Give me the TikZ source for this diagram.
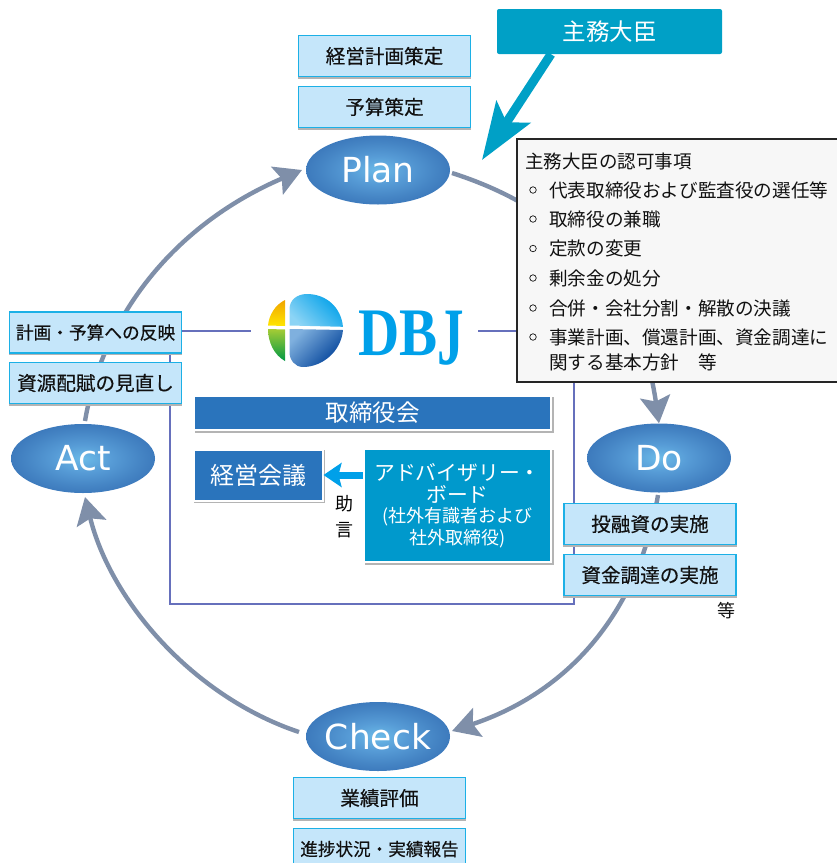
\documentclass[tikz,border=0pt]{standalone}
\usepackage{fontspec}
\setmainfont{Noto Sans CJK JP}
\newfontfamily\jpmed[FakeBold=0.35]{Noto Sans CJK JP}
\newfontfamily\latinsf{DejaVu Sans}
\newfontfamily\logofont{Liberation Serif}
\usetikzlibrary{shapes.geometric,arrows.meta}
\definecolor{cyc}{HTML}{7F8FA9}
\definecolor{lightbox}{HTML}{C5E6FA}
\definecolor{lightedge}{HTML}{1CB0E6}
\definecolor{teal}{HTML}{00A0C6}
\definecolor{board}{HTML}{2A74BC}
\definecolor{adv}{HTML}{0099CC}
\definecolor{outline}{HTML}{6670BC}
\definecolor{logoblue}{HTML}{00A0E9}
\definecolor{ink}{HTML}{111111}
\definecolor{shadowgray}{HTML}{B4B4B4}
\pgfdeclareradialshading{ellshade}{\pgfpoint{0bp}{0bp}}{%
  rgb(0bp)=(.42,.73,.91);
  rgb(10bp)=(.34,.61,.84);
  rgb(20bp)=(.27,.52,.77);
  rgb(30bp)=(.21,.44,.71);
  rgb(38bp)=(.18,.40,.67);
  rgb(100bp)=(.18,.40,.67)}
\tikzset{
  fs/.code={\pgfmathsetmacro\fsh{#1*.88}\pgfmathsetmacro\fsd{#1*.12}%
    \tikzset{font=\fontsize{#1}{#1}\selectfont,text height=\fsh pt,text depth=\fsd pt}},
  fsb/.code={\pgfmathsetmacro\fsh{#1*.88}\pgfmathsetmacro\fsd{#1*.12}%
    \tikzset{font=\jpmed\fontsize{#1}{#1}\selectfont,text height=\fsh pt,text depth=\fsd pt}},
  phase/.style={ellipse,shade,shading=ellshade,minimum width=144pt,minimum height=69pt,inner sep=-12pt,text=white,font=\latinsf\fontsize{34.5}{34.5}\selectfont},
  lbox/.style={rectangle,draw=lightedge,line width=1.4pt,fill=lightbox,text=ink,minimum width=172pt,minimum height=41pt,inner sep=0pt,
    preaction={draw=shadowgray,line width=1.4pt,fill=shadowgray,transform canvas={yshift=-1.6pt}}},
  darkbox/.style={rectangle,draw=white,line width=2pt,fill=board,text=white,inner sep=0pt,
    preaction={draw=shadowgray,line width=2pt,fill=shadowgray,transform canvas={xshift=1.6pt,yshift=-1.6pt}}},
  cycarrow/.style={draw=cyc,line width=4.4pt,-{Stealth[length=27pt,width=30pt,inset=5pt]}},
  frameline/.style={draw=outline,line width=1.2pt},
  item/.style={anchor=west,inner sep=0pt,text=ink},
  bullet/.style={circle,draw=ink,line width=.7pt,minimum size=6.5pt,inner sep=0pt},
}
\begin{document}
\begin{tikzpicture}[x=1pt,y=-1pt]
\useasboundingbox (0,0) rectangle (837,863);
\clip (0,0) rectangle (837,863);
% free ends
\coordinate (planOut) at (452,173);
\coordinate (doOut) at (658,495);
\coordinate (checkIn) at (452,731);
\coordinate (checkOut) at (299,732);
\coordinate (actIn) at (85,497);
\coordinate (actOut) at (85,421);
\coordinate (planIn) at (302,170);
\coordinate (logoL) at (250.5,331);
\coordinate (logoR) at (478,331);
\coordinate (frameTL) at (170,331);
\coordinate (frameBL) at (170,604);
\coordinate (frameBR) at (574,604);
\coordinate (frameTR) at (574,331);
\coordinate (ministerTip) at (482,160);
% frame
\draw[frameline] (logoL) -- (frameTL) -- (frameBL) -- (frameBR) -- (frameTR) -- (logoR);
% phases
\node[phase] (plan) at (378,170) {Plan};
\node[phase] (do) at (659,458) {Do};
\node[phase] (check) at (378,736.5) {Check};
\node[phase] (act) at (83,458.5) {Act};
% cycle
\draw[cycarrow] (planOut) .. controls (574,212) and (640,293) .. (do.north);
\draw[cycarrow] (doOut) .. controls (640,605) and (575,690) .. (checkIn);
\draw[cycarrow] (checkOut) .. controls (194,697) and (111,602) .. (actIn);
\draw[cycarrow] (actOut) .. controls (104,310) and (180,222) .. (planIn);
% light boxes
\node[lbox,fsb=19.6] (keiei) at (384.5,56) {経営計画策定};
\node[lbox,fsb=19.6] (yosan) at (384.5,107) {予算策定};
\node[lbox,fsb=17.7] (hanei) at (95.5,332.5) {計画・予算への反映};
\node[lbox,fsb=19.6] (shigen) at (95.5,383) {資源配賦の見直し};
\node[lbox,fsb=19.6] (yushi) at (650,524) {投融資の実施};
\node[lbox,fsb=19.6] (shikin) at (650,575) {資金調達の実施};
\node[lbox,fsb=19.6] (gyoseki) at (379.5,798) {業績評価};
\node[lbox,fsb=17.6] (shincho) at (379.5,849) {進捗状況・実績報告};
\node[fs=18,inner sep=0pt,text=ink] (nado) at (726,611) {等};
% minister
\node[rectangle,rounded corners=2pt,fill=teal,text=white,minimum width=225pt,minimum height=45pt,inner sep=0pt,fs=23.5] (minister) at (609.5,31.5) {主務大臣};
\draw[teal,line width=9pt,-{Stealth[length=57pt,width=40pt,inset=12pt]}] ([xshift=-58.5pt]minister.south) -- (ministerTip);
% approval box
\node[rectangle,draw=black!85,line width=1.2pt,fill=black!3,minimum width=330pt,minimum height=243pt,inner sep=0pt] (approval) at (682,260.5) {};
\node[item,fs=18.5] (t0) at (525,161) {主務大臣の認可事項};
\node[bullet] (b1) at (533,190) {};
\node[item,fs=18.6] (t1) at (549,190) {代表取締役および監査役の選任等};
\node[bullet] (b2) at (533,219) {};
\node[item,fs=18.6] (t2) at (549,219) {取締役の兼職};
\node[bullet] (b3) at (533,248.5) {};
\node[item,fs=18.6] (t3) at (549,248.5) {定款の変更};
\node[bullet] (b4) at (533,278) {};
\node[item,fs=18.6] (t4) at (549,278) {剰余金の処分};
\node[bullet] (b5) at (533,308) {};
\node[item,fs=18.6] (t5) at (549,308) {合併・会社分割・解散の決議};
\node[bullet] (b6) at (533,337) {};
\node[item,fs=18.6] (t6) at (549,337) {事業計画、償還計画、資金調達に};
\node[item,fs=18.6] (t7) at (549,362) {関する基本方針　等};
% board
\node[darkbox,minimum width=357pt,minimum height=34pt,fs=23.5] (torishimari) at (372.5,413) {取締役会};
\node[darkbox,minimum width=129pt,minimum height=51pt,fs=24] (kaigi) at (258,475) {経営会議};
\node[darkbox,fill=adv,minimum width=187pt,minimum height=113pt,align=center,font=\fontsize{20.8}{22}\selectfont] (advisory) at (457.5,505.5)
  {アドバイザリー・\\ボード\\[-1.5pt]{\fontsize{18}{22}\selectfont (社外有識者および}\\{\fontsize{18}{22}\selectfont 社外取締役)}};
\draw[logoblue,line width=7pt,-{Stealth[length=18pt,width=24pt,inset=3pt]}] (advisory.west|-kaigi) -- (kaigi.east);
\node[align=center,font=\fontsize{18}{26}\selectfont,text=black,inner sep=0pt] (jogen) at (344,517) {助\\言};
% logo
\path[top color=logoblue,bottom color=logoblue!45!white,shading angle=-45]
  (289.5,325.5) -- (289.5,309) .. controls (289.5,300) and (297,294) .. (307,294)
  .. controls (326,294) and (341,307) .. (343,326.8) -- cycle;
\definecolor{logolt}{HTML}{7FB0DE}
\definecolor{logodk}{HTML}{004098}
\definecolor{logoyt}{HTML}{F0A500}
\definecolor{logoyb}{HTML}{FFE600}
\definecolor{logogt}{HTML}{A5CC35}
\definecolor{logogb}{HTML}{009944}
\path[top color=logolt,bottom color=logodk,shading angle=45]
  (289.5,329) -- (343,330) .. controls (341,352) and (322,367) .. (303,367)
  .. controls (295,367) and (289.5,360) .. (289.5,352) -- cycle;
\path[top color=logoyt,bottom color=logoyb]
  (285,300) .. controls (275,305) and (269,315) .. (268,325.5) -- (285,326) -- cycle;
\path[top color=logogt,bottom color=logogb]
  (268,329) -- (285,329.5) -- (285,361) .. controls (274,355) and (268,342) .. (268,329) -- cycle;
\node[inner sep=0pt,anchor=base west,text=logoblue,font=\logofont\bfseries\fontsize{68}{68}\selectfont] (dbj) at (358,355)
  {\scalebox{.84}[1]{DB}\raisebox{-9pt}{\scalebox{.78}[1.2]{J}}};
\end{tikzpicture}
\end{document}
